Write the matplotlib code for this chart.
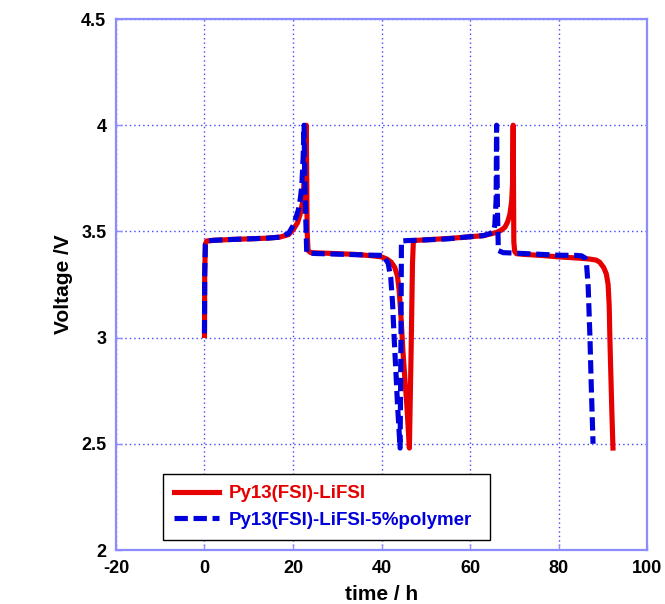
import matplotlib
matplotlib.use("Agg")
import matplotlib.pyplot as plt

plt.rcParams['font.family'] = ['Liberation Sans', 'DejaVu Sans']
plt.rcParams['font.weight'] = 'bold'

# Py13(FSI)-LiFSI cell: time (h), voltage (V)
t_base = [0, 0.05, 0.2, 0.5, 2, 6, 10, 14, 17, 19, 20.1, 21.0, 21.6, 22.3, 22.7, 22.9,
          23.0, 23.2, 23.4, 24, 28, 34, 38, 40, 41.2, 42.2, 43.0, 43.6, 44.0, 44.4,
          44.8, 45.3, 45.7, 46.3, 46.7, 47.0, 47.2, 48, 52, 56, 60, 63, 66, 67.0,
          67.9, 68.5, 69.0, 69.4, 69.6, 69.75, 69.9, 70.1, 70.5, 72, 76, 80, 84,
          87, 88.5, 89.3, 90.2, 90.8, 91.2, 91.45, 91.6, 91.8, 92.05, 92.3]
v_base = [3.01, 3.30, 3.44, 3.455, 3.458, 3.462, 3.465, 3.468, 3.473, 3.485, 3.51, 3.54,
          3.58, 3.65, 3.84, 3.95, 4.00, 3.50, 3.41, 3.40, 3.397, 3.392, 3.385, 3.38,
          3.37, 3.355, 3.33, 3.29, 3.22, 3.10, 2.95, 2.80, 2.69, 2.48, 2.95, 3.35,
          3.455, 3.458, 3.463, 3.468, 3.475, 3.48, 3.495, 3.505, 3.52, 3.545, 3.58,
          3.64, 3.72, 4.00, 3.45, 3.405, 3.395, 3.392, 3.387, 3.38, 3.375, 3.37, 3.365,
          3.355, 3.33, 3.30, 3.25, 3.15, 3.00, 2.84, 2.65, 2.48]

# Py13(FSI)-LiFSI-5%polymer cell: time (h), voltage (V)
t_poly = [0, 0.05, 0.2, 0.5, 2, 6, 10, 14, 17, 19, 20.1, 21.2, 21.7, 22.0, 22.3, 22.5,
          22.7, 23.1, 23.5, 25, 30, 35, 38, 40.4, 41.5, 42.1, 42.5, 42.9, 43.3,
          43.6, 44.2, 44.4, 44.5, 46, 50, 55, 60, 63, 64.5, 65.3, 65.6, 65.9, 66.0,
          66.2, 66.4, 67.5, 70, 75, 80, 84, 85.2, 86.0, 86.3, 86.7, 87.1, 87.4, 87.8]
v_poly = [3.02, 3.30, 3.44, 3.455, 3.458, 3.462, 3.465, 3.468, 3.473, 3.49, 3.53, 3.60,
          3.66, 3.72, 3.85, 4.00, 3.70, 3.40, 3.398, 3.396, 3.393, 3.39, 3.388, 3.387,
          3.35, 3.28, 3.16, 2.98, 2.82, 2.69, 2.48, 3.00, 3.455, 3.457, 3.46, 3.465,
          3.475, 3.48, 3.49, 3.50, 3.53, 3.65, 4.00, 3.60, 3.41, 3.40, 3.398, 3.393,
          3.388, 3.387, 3.385, 3.375, 3.355, 3.24, 3.00, 2.77, 2.50]

base_label = 'Py13(FSI)-LiFSI'
poly_label = 'Py13(FSI)-LiFSI-5%polymer'
red = '#e60000'
blue = '#0000dd'
frame_col = '#8c8cff'
grid_col = '#4444ff'

fig = plt.figure(figsize=(6.65, 6.04), dpi=100)
ax = fig.add_subplot(1, 1, 1)
plt.subplots_adjust(left=0.1744, right=0.973, bottom=0.0894, top=0.9685)

ax.plot(t_base, v_base, color=red, lw=3.7, label=base_label, solid_joinstyle='round')
ax.plot(t_poly, v_poly, color=blue, lw=3.7, label=poly_label,
        dashes=(2.6, 1.1), dash_capstyle='butt')

ax.set_xlim(-20, 100)
ax.set_ylim(2, 4.5)
ax.set_xticks([-20, 0, 20, 40, 60, 80, 100])
ax.set_xticklabels(['-20', '0', '20', '40', '60', '80', '100'])
ax.set_yticks([2, 2.5, 3, 3.5, 4, 4.5])
ax.set_yticklabels(['2', '2.5', '3', '3.5', '4', '4.5'])

ax.grid(True, color=grid_col, linestyle=(0, (1, 2.2)), linewidth=1.0)
ax.set_axisbelow(True)
for s in ax.spines.values():
    s.set_color(frame_col)
    s.set_linewidth(1.6)
ax.tick_params(direction='in', length=4, width=1, color=frame_col,
               labelsize=13, pad=7)
for lab in ax.get_xticklabels() + ax.get_yticklabels():
    lab.set_fontweight('bold')

ax.set_xlabel('time / h', fontsize=15, fontweight='bold')
ax.set_ylabel('Voltage /V', fontsize=15, fontweight='bold')
ax.xaxis.set_label_coords(0.5, -0.065)
ax.yaxis.set_label_coords(-0.08, 0.5)

leg = ax.legend(loc='lower left', bbox_to_anchor=(0.088, 0.019, 0.616, 0.126),
                mode='expand', borderaxespad=0,
                fancybox=False, edgecolor='black', framealpha=1,
                handlelength=2.4, labelspacing=0.5, borderpad=0.6,
                handletextpad=0.5, labelcolor='linecolor',
                prop={'weight': 'bold', 'size': 13.5})
leg.get_frame().set_linewidth(1.0)

plt.savefig('out.png', dpi=100)
